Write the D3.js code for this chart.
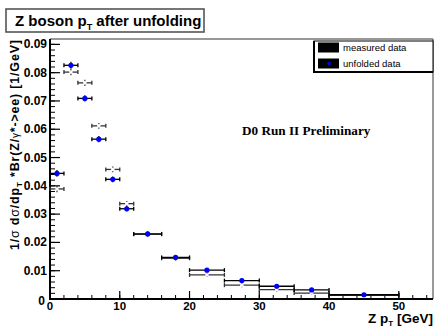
<!DOCTYPE html>
<html><head><meta charset="utf-8">
<script src="https://cdn.jsdelivr.net/npm/d3@7"></script>
<style>body{margin:0;background:#fff}svg{display:block}text{font-family:"Liberation Sans",Arial,sans-serif}</style>
</head><body><svg id="c" width="435" height="328"></svg>
<script>
const binLow  = [0, 2, 4, 6, 8, 10, 12, 16, 20, 25, 30, 35, 40];
const binHigh = [2, 4, 6, 8, 10, 12, 16, 20, 25, 30, 35, 40, 50];
const measured = [0.0389, 0.0802, 0.0764, 0.0612, 0.0458, 0.0337, 0.0229, 0.0144, 0.0085, 0.0049, 0.0033, 0.0021, 0.0013];
const measuredErr = [0.0006, 0.0006, 0.0006, 0.0005, 0.0005, 0.0004, 0.0003, 0.0003, 0.0002, 0.0002, 0.0002, 0.0001, 0.0001];
const unfolded = [0.0444, 0.0826, 0.0709, 0.0565, 0.0423, 0.0319, 0.0230, 0.0147, 0.0102, 0.0065, 0.0045, 0.0032, 0.0015];
const unfoldedErr = [0.0007, 0.0007, 0.0006, 0.0006, 0.0005, 0.0004, 0.0003, 0.0003, 0.0002, 0.0002, 0.0002, 0.0001, 0.0001];
const xTicks = [0, 10, 20, 30, 40, 50];
const yTicks = [0, 0.01, 0.02, 0.03, 0.04, 0.05, 0.06, 0.07, 0.08, 0.09];
const yTickLabels = ["0", "0.01", "0.02", "0.03", "0.04", "0.05", "0.06", "0.07", "0.08", "0.09"];
const legendLabels = ["measured data", "unfolded data"];

const svg = d3.select("#c");
const L = 50, R = 433, T = 39, B = 299;
const x = d3.scaleLinear().domain([0, 54.9]).range([L, R]);
const y = d3.scaleLinear().domain([0, 0.0919]).range([B, T]);

// frame
svg.append("line").attr("x1", L).attr("x2", R).attr("y1", T).attr("y2", T).attr("stroke", "#333").attr("stroke-width", 1.2);
svg.append("line").attr("x1", R).attr("x2", R).attr("y1", T).attr("y2", B).attr("stroke", "#555").attr("stroke-width", 1.2);

// y axis ticks (inside)
const yMinor = d3.range(0, 0.0919, 0.002);
svg.append("g").selectAll("line").data(yMinor).join("line")
  .attr("x1", L).attr("x2", L + 5).attr("y1", d => y(d)).attr("y2", d => y(d)).attr("stroke", "#000").attr("stroke-width", 1);
svg.append("g").selectAll("line").data(yTicks).join("line")
  .attr("x1", L).attr("x2", L + 10).attr("y1", d => y(d)).attr("y2", d => y(d)).attr("stroke", "#000").attr("stroke-width", 1.2);
svg.append("g").selectAll("text").data(yTicks).join("text")
  .attr("x", (d, i) => i === 0 ? 45 : 47).attr("y", (d, i) => y(d) + 4 + (i === 0 ? 2 : 0))
  .attr("text-anchor", "end").attr("font-size", 12).attr("font-weight", "bold")
  .text((d, i) => yTickLabels[i]);

// x axis ticks (inside, pointing up)
const xMinor = d3.range(0, 55, 2);
svg.append("g").selectAll("line").data(xMinor).join("line")
  .attr("x1", d => x(d)).attr("x2", d => x(d)).attr("y1", B).attr("y2", B - 4).attr("stroke", "#000").attr("stroke-width", 1);
svg.append("g").selectAll("line").data(xTicks).join("line")
  .attr("x1", d => x(d)).attr("x2", d => x(d)).attr("y1", B).attr("y2", B - 8).attr("stroke", "#000").attr("stroke-width", 1.2);
svg.append("g").selectAll("text").data(xTicks).join("text")
  .attr("x", d => x(d)).attr("y", 310).attr("text-anchor", "middle")
  .attr("font-size", 11.5).attr("font-weight", "bold").text(d => d);

// axis lines
svg.append("line").attr("x1", L).attr("x2", L).attr("y1", T).attr("y2", B + 1).attr("stroke", "#000").attr("stroke-width", 2);
svg.append("line").attr("x1", L - 1).attr("x2", R).attr("y1", B).attr("y2", B).attr("stroke", "#000").attr("stroke-width", 2);

// data marks
function drawSeries(vals, errs, opts) {
  const g = svg.append("g");
  vals.forEach((v, i) => {
    const x1 = x(binLow[i]), x2 = x(binHigh[i]), xc = x((binLow[i] + binHigh[i]) / 2), yc = y(v);
    g.append("line").attr("x1", x1).attr("x2", x2).attr("y1", yc).attr("y2", yc).attr("stroke", opts.bar).attr("stroke-width", 1.3);
    g.append("line").attr("x1", x1).attr("x2", x1).attr("y1", yc - 2).attr("y2", yc + 2).attr("stroke", opts.bar).attr("stroke-width", 1.3);
    g.append("line").attr("x1", x2).attr("x2", x2).attr("y1", yc - 2).attr("y2", yc + 2).attr("stroke", opts.bar).attr("stroke-width", 1.3);
    const ye1 = y(v + errs[i]) - 1.5, ye2 = y(v - errs[i]) + 1.5;
    g.append("line").attr("x1", xc).attr("x2", xc).attr("y1", ye1).attr("y2", ye2).attr("stroke", opts.bar).attr("stroke-width", 1.2);
    g.append("circle").attr("cx", xc).attr("cy", yc).attr("r", opts.r).attr("fill", opts.fill);
  });
}
drawSeries(measured, measuredErr, {bar: "#333", fill: "#fff", r: 1.8});
drawSeries(unfolded, unfoldedErr, {bar: "#000", fill: "#0000ff", r: 2.6});

// legend
const lg = svg.append("g");
lg.append("rect").attr("x", 314).attr("y", 41).attr("width", 119).attr("height", 31).attr("fill", "#fff").attr("stroke", "#000").attr("stroke-width", 1);
lg.append("line").attr("x1", 314).attr("x2", 314).attr("y1", 41).attr("y2", 72.5).attr("stroke", "#000").attr("stroke-width", 2);
lg.append("line").attr("x1", 313).attr("x2", 433).attr("y1", 72).attr("y2", 72).attr("stroke", "#000").attr("stroke-width", 2);
legendLabels.forEach((t, i) => {
  const yy = 42.5 + i * 16;
  lg.append("rect").attr("x", 318).attr("y", yy).attr("width", 21).attr("height", 10).attr("fill", "#000");
  lg.append("text").attr("x", 343).attr("y", yy + 8).attr("font-size", 9.5).text(t);
});
lg.append("circle").attr("cx", 329).attr("cy", 63.5).attr("r", 1.8).attr("fill", "#0000ff");

// title box
svg.append("rect").attr("x", 6).attr("y", 9).attr("width", 198).attr("height", 23).attr("fill", "#fff").attr("stroke", "#555").attr("stroke-width", 1.6);
const tt = svg.append("text").attr("x", 15).attr("y", 25.5).attr("font-size", 15).attr("font-weight", "bold");
tt.append("tspan").text("Z boson p");
tt.append("tspan").attr("font-size", 9).attr("dy", 4).text("T");
tt.append("tspan").attr("dy", -4).text(" after unfolding");

// annotation
svg.append("text").attr("x", 242).attr("y", 135).style("font-family", "'Liberation Serif','Times New Roman',serif")
  .attr("font-size", 13.2).attr("font-weight", "bold").text("D0 Run II Preliminary");

// x label
const xl = svg.append("text").attr("x", 433).attr("y", 323).attr("text-anchor", "end").attr("font-size", 13.5).attr("font-weight", "bold");
xl.append("tspan").text("Z p");
xl.append("tspan").attr("font-size", 8).attr("dy", 3).text("T");
xl.append("tspan").attr("dy", -3).text(" [GeV]");

// y label
const yl = svg.append("text").attr("transform", "translate(19,250) rotate(-90)").attr("font-size", 12.5).attr("font-weight", "bold")
  .attr("textLength", 210).attr("lengthAdjust", "spacing");
yl.append("tspan").text("1/");
yl.append("tspan").attr("font-weight", "normal").text("σ");
yl.append("tspan").text(" d");
yl.append("tspan").attr("font-weight", "normal").text("σ");
yl.append("tspan").text("/dp");
yl.append("tspan").attr("font-size", 8).attr("dy", 3).text("T");
yl.append("tspan").attr("dy", -3).text(" *Br(Z/");
yl.append("tspan").attr("font-weight", "normal").attr("font-size", 10).text("γ");
yl.append("tspan").text("*->ee) [1/GeV]");
</script></body></html>
